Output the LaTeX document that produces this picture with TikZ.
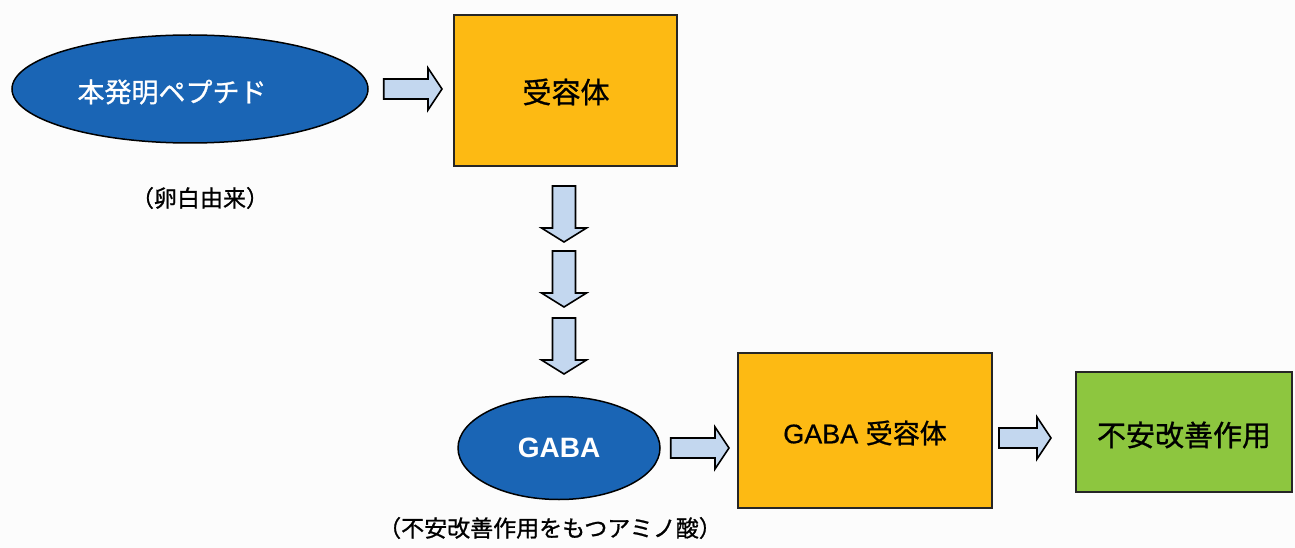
\documentclass[tikz,border=0pt]{standalone}
\usepackage{fontspec}
\setmainfont{Liberation Sans}
\newfontfamily\cjk[FakeBold=0.9]{Noto Sans CJK JP}
\newfontfamily\latm[FakeBold=0.5]{Liberation Sans}
\usetikzlibrary{shapes.geometric,calc}
\definecolor{ellblue}{HTML}{1A65B5}
\definecolor{boxorange}{HTML}{FDBA13}
\definecolor{boxgreen}{HTML}{8DC63F}
\definecolor{arrowfill}{HTML}{C3D7EF}
\definecolor{bgcol}{HTML}{FCFCFC}
\tikzset{
  ell/.style={ellipse, draw=black, line width=1.5pt, fill=ellblue, text=white, inner sep=0pt},
  boxnode/.style={rectangle, draw=black!85, line width=2pt, inner sep=0pt},
  note/.style={text=black, inner sep=0pt},
  barrow/.style={draw=black, line width=1.6pt, fill=arrowfill, line join=miter},
}
\newcommand\hblock[2]{\draw[barrow] let \p1=(#1), \p2=(#2) in
  (\x1,\y1+10pt) -- (\x2-14pt,\y1+10pt) -- (\x2-14pt,\y1+21pt) -- (\x2,\y1)
  -- (\x2-14pt,\y1-21pt) -- (\x2-14pt,\y1-10pt) -- (\x1,\y1-10pt) -- cycle;}
\newcommand\vblock[2]{\draw[barrow] let \p1=(#1), \p2=(#2) in
  (\x1-11.5pt,\y1) -- (\x1+11.5pt,\y1) -- (\x1+11.5pt,\y2+14pt) -- (\x1+22.5pt,\y2+14pt)
  -- (\x1,\y2) -- (\x1-22.5pt,\y2+14pt) -- (\x1-11.5pt,\y2+14pt) -- cycle;}
\newcommand\fs[1]{\fontsize{#1pt}{#1pt}\selectfont}
\begin{document}
\begin{tikzpicture}[x=1pt,y=-1pt]
  \fill[bgcol] (0,0) rectangle (1295,548);
  \useasboundingbox (0,0) rectangle (1295,548);

  % nodes
  \node[ell, minimum width=356pt, minimum height=108pt] (pep) at (190,89) {};
  \node[text=white, inner sep=0pt] (peptext) at (172,92) {\cjk\fs{27}本発明ペプチド};
  \node[note] (pepnote) at (200,198) {\cjk\fs{23}（卵白由来）};
  \node[boxnode, fill=boxorange, minimum width=223pt, minimum height=151pt] (rec) at (565.5,90.5) {};
  \node at (566,92) (rectext) {\cjk\fs{29}受容体};
  \node[ell, minimum width=202pt, minimum height=103pt] (gaba) at (559,448)
    {\bfseries\fs{28}GABA};
  \node[note] (gabanote) at (550,528) {\cjk\fs{23}（不安改善作用をもつアミノ酸）};
  \node[boxnode, fill=boxorange, minimum width=254pt, minimum height=155pt] (grec) at (865,430.5) {};
  \node at (865,433) (grectext) {\latm\fs{27}GABA {\cjk 受容体}};
  \node[boxnode, fill=boxgreen, minimum width=216pt, minimum height=120pt] (anx) at (1184,432) {};
  \node at (1184,435) (anxtext) {\cjk\fs{29}不安改善作用};

  % connector end points
  \coordinate (a1s) at ($(pep.east)+(15,0)$);
  \coordinate (a1e) at ($(rec.west|-pep.east)+(-11,0)$);
  \coordinate (d1s) at ($(rec.south)+(-1.5,19)$);
  \coordinate (d1e) at ($(d1s)+(0,56)$);
  \coordinate (d2s) at ($(d1e)+(0,9)$);
  \coordinate (d2e) at ($(d2s)+(0,56)$);
  \coordinate (d3s) at ($(d2e)+(0,11)$);
  \coordinate (d3e) at ($(d3s)+(0,56)$);
  \coordinate (a2s) at ($(gaba.east)+(10,0)$);
  \coordinate (a2e) at ($(grec.west|-gaba.east)+(-8,0)$);
  \coordinate (a3s) at ($(grec.east)+(6,7.5)$);
  \coordinate (a3e) at ($(anx.west|-a3s)+(-24,0)$);

  % block arrows
  \hblock{a1s}{a1e}
  \vblock{d1s}{d1e}
  \vblock{d2s}{d2e}
  \vblock{d3s}{d3e}
  \hblock{a2s}{a2e}
  \hblock{a3s}{a3e}
\end{tikzpicture}
\end{document}
